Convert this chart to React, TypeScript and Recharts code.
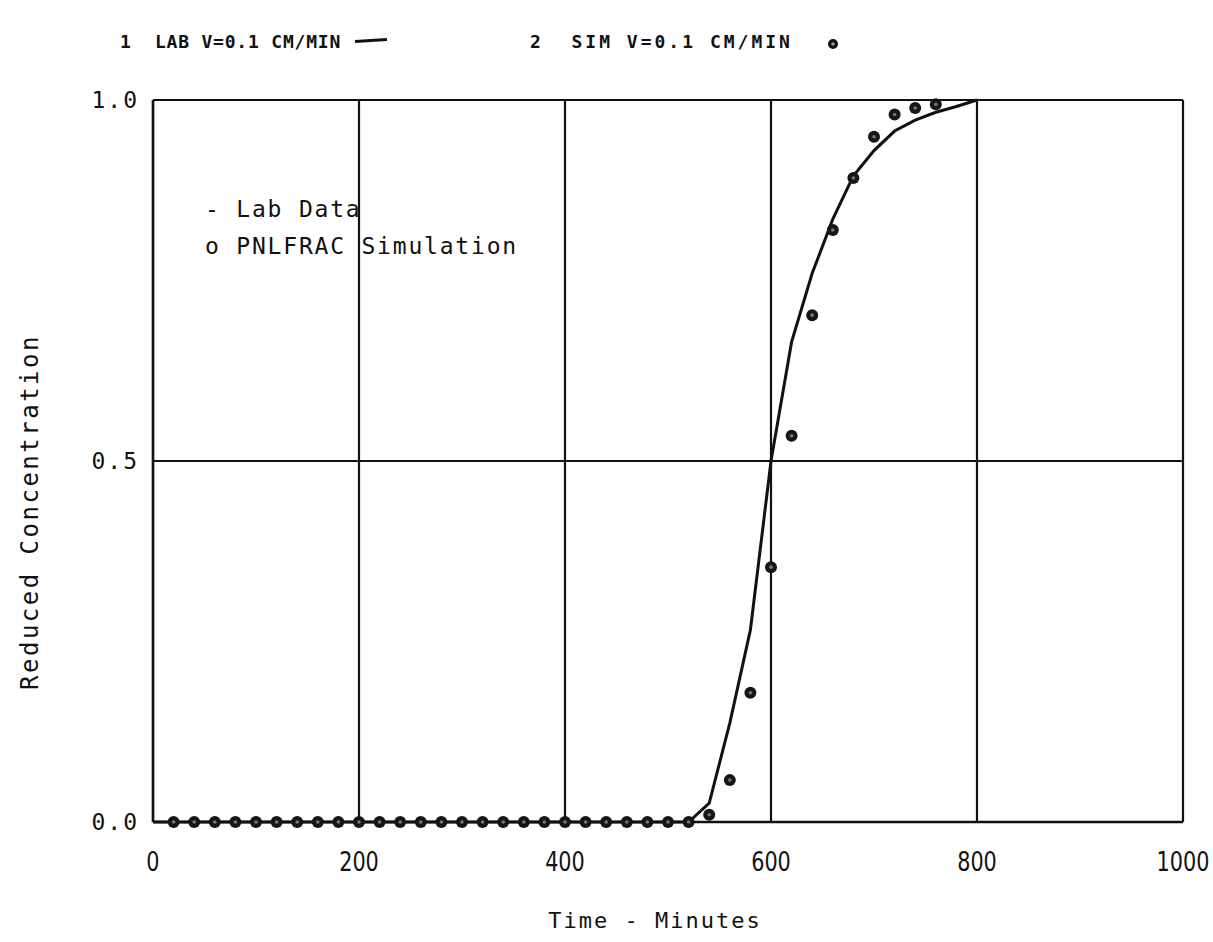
import {
  ComposedChart,
  Line,
  Scatter,
  XAxis,
  YAxis,
  CartesianGrid,
} from "recharts";

// lab breakthrough curve (minutes, reduced concentration)
const labMinutes = [0, 520, 540, 560, 580, 600, 620, 640, 660, 680, 700, 720, 740, 760, 780, 800];
const labConc = [0, 0, 0.026, 0.137, 0.266, 0.5, 0.665, 0.76, 0.835, 0.895, 0.93, 0.957, 0.972, 0.983, 0.991, 1.0];

// PNLFRAC simulation, every 20 minutes
const simMinutes = [
  20, 40, 60, 80, 100, 120, 140, 160, 180, 200, 220, 240, 260, 280, 300, 320, 340, 360, 380,
  400, 420, 440, 460, 480, 500, 520, 540, 560, 580, 600, 620, 640, 660, 680, 700, 720, 740, 760,
];
const simConc = [
  0, 0, 0, 0, 0, 0, 0, 0, 0, 0, 0, 0, 0, 0, 0, 0, 0, 0, 0,
  0, 0, 0, 0, 0, 0, 0, 0.01, 0.058, 0.179, 0.353, 0.535, 0.702, 0.82, 0.892, 0.949, 0.98, 0.989, 0.994,
];

const xTicks = [0, 200, 400, 600, 800, 1000];
const yTicks = [0, 0.5, 1.0];

const labData = labMinutes.map((t, i) => ({ t, c: labConc[i] }));
const simData = simMinutes.map((t, i) => ({ t, c: simConc[i] }));

const MONO = '"DejaVu Sans Mono", "Liberation Mono", monospace';

const SimDot = (props: any) => {
  const { cx, cy } = props;
  if (cx == null || cy == null) return null;
  return (
    <g>
      <circle cx={cx} cy={cy} r={6} fill="#161616" />
      <circle cx={cx} cy={cy} r={1.8} fill="#777" />
    </g>
  );
};

// narrow, tall numerals like the plotter's lettering
const XTick = (props: any) => {
  const { x, y, payload } = props;
  return (
    <text
      x={x}
      y={y}
      dy="0.71em"
      textAnchor="middle"
      fontSize={26}
      fill="#111"
      fontFamily='"DejaVu Sans", sans-serif'
      transform={`translate(${x} ${y}) scale(0.8 1) translate(${-x} ${-y})`}
    >
      {payload.value}
    </text>
  );
};

export default function App() {
  return (
    <div
      style={{
        position: "absolute",
        left: 0,
        top: 0,
        width: 1213,
        height: 942,
        background: "#fff",
        fontFamily: MONO,
      }}
    >
      <div
        style={{
          position: "absolute",
          left: 120,
          top: 31,
          fontSize: 18,
          letterSpacing: 0.8,
          color: "#111",
          whiteSpace: "pre",
          fontWeight: "bold",
        }}
      >
        1  LAB V=0.1 CM/MIN
      </div>
      <div
        style={{
          position: "absolute",
          left: 355,
          top: 39,
          width: 32,
          height: 3,
          background: "#111",
          transform: "rotate(-4deg)",
        }}
      />
      <div
        style={{
          position: "absolute",
          left: 530,
          top: 31,
          fontSize: 18,
          letterSpacing: 3,
          color: "#111",
          whiteSpace: "pre",
          fontWeight: "bold",
        }}
      >
        2  SIM V=0.1 CM/MIN
      </div>
      <svg
        style={{ position: "absolute", left: 826, top: 37 }}
        width={14}
        height={14}
      >
        <circle cx={7} cy={7} r={5} fill="#111" />
        <circle cx={7} cy={7} r={1.8} fill="#999" />
      </svg>

      <div
        style={{
          position: "absolute",
          left: 205,
          top: 191,
          fontSize: 23,
          letterSpacing: 1.8,
          lineHeight: "37px",
          color: "#111",
          whiteSpace: "pre",
        }}
      >
        <div>- Lab Data</div>
        <div>o PNLFRAC Simulation</div>
      </div>

      <div
        style={{
          position: "absolute",
          left: 30,
          top: 512,
          transform: "translate(-50%, -50%) rotate(-90deg)",
          fontSize: 24,
          letterSpacing: 2.5,
          color: "#111",
          whiteSpace: "pre",
        }}
      >
        Reduced Concentration
      </div>
      <div
        style={{
          position: "absolute",
          left: 655,
          top: 920,
          transform: "translate(-50%, -50%)",
          fontSize: 22,
          letterSpacing: 2,
          color: "#111",
          whiteSpace: "pre",
        }}
      >
        Time - Minutes
      </div>

      <div style={{ position: "absolute", left: 0, top: 0 }}>
        <ComposedChart
          width={1213}
          height={942}
          margin={{ top: 100, right: 30, bottom: 90, left: 93 }}
        >
          <CartesianGrid
            stroke="#111"
            strokeWidth={2.2}
            horizontalValues={yTicks}
            verticalValues={xTicks}
          />
          <XAxis
            type="number"
            dataKey="t"
            domain={[0, 1000]}
            ticks={xTicks}
            height={30}
            tickLine={false}
            tickSize={0}
            tickMargin={31}
            axisLine={{ stroke: "#111", strokeWidth: 2.5 }}
            tick={<XTick />}
            allowDataOverflow
          />
          <YAxis
            type="number"
            dataKey="c"
            domain={[0, 1]}
            ticks={yTicks}
            width={60}
            tickLine={false}
            tickSize={0}
            tickMargin={14}
            axisLine={{ stroke: "#111", strokeWidth: 2.5 }}
            tickFormatter={(v: number) => v.toFixed(1)}
            tick={{ fill: "#111", fontSize: 23, fontFamily: MONO, letterSpacing: 2 }}
          />
          <Line
            data={labData}
            dataKey="c"
            type="linear"
            stroke="#111"
            strokeWidth={3}
            dot={false}
            isAnimationActive={false}
          />
          <Scatter
            data={simData}
            dataKey="c"
            shape={<SimDot />}
            isAnimationActive={false}
          />
        </ComposedChart>
      </div>
    </div>
  );
}
